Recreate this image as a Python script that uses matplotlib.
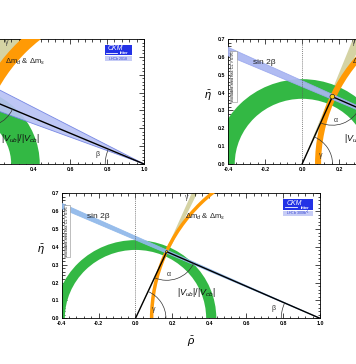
import numpy as np
import matplotlib
matplotlib.use('Agg')
import matplotlib.pyplot as plt
from matplotlib.patches import Wedge, Arc, Ellipse, Rectangle
from matplotlib.ticker import MultipleLocator, FormatStrFormatter

plt.rcParams['font.family'] = ['Liberation Sans', 'DejaVu Sans']
plt.rcParams['mathtext.fontset'] = 'custom'
plt.rcParams['mathtext.rm'] = 'Liberation Sans'
plt.rcParams['mathtext.it'] = 'Liberation Sans:italic'
plt.rcParams['mathtext.bf'] = 'Liberation Sans:bold'

# scenarios: LHCb 2018 (top left), intermediate (top right), LHCb 300fb-1 (bottom)
logo_txt = ['LHCb 2018', 'LHCb 50fb$^{-1}$', 'LHCb 300fb$^{-1}$']
apex_rho = [0.140, 0.164, 0.169]
apex_eta = [0.370, 0.377, 0.373]
vub_rin = [0.28, 0.365, 0.383]
vub_rout = [0.435, 0.475, 0.438]
dm_rin = [0.895, 0.897, 0.903]
dm_rout = [0.965, 0.930, 0.922]
s2b_lo = [20.6, 23.4, 23.7]     # degrees, seen from (1,0)
s2b_hi = [27.9, 25.0, 24.7]
gam_lo = [64.0, 64.5, 64.5]     # degrees, seen from (0,0)
gam_hi = [82.0, 68.5, 66.5]

# styling / layout per panel
blue_face = ['#b9c3f5', '#aab6f1', '#8fb8ea']
blue_edge = ['#6f80e2', '#9aa8ee', '#8fb8ea']
fit_size = [0.05, 0.026, 0.012]
lbl_rho = [0.245, 0.27, 0.267]
logo_x = [0.848, 0.86, 0.858]
logo_w = [0.104, 0.11, 0.116]
rects = [[-0.3211, 0.5495, 0.7256, 0.3434],
         [0.6413, 0.5495, 0.7256, 0.3434],
         [0.1733, 0.1255, 0.7256, 0.3434]]

fig = plt.figure(figsize=(3.56, 3.64), dpi=100)


def draw(ax, i):
    r, e = apex_rho[i], apex_eta[i]
    gam = np.degrees(np.arctan2(e, r))
    bet = np.degrees(np.arctan2(e, 1 - r))

    ax.add_patch(Wedge((0, 0), 3, gam_lo[i], gam_hi[i], fc='#d5d3a4', ec='none', zorder=1))
    ax.add_patch(Wedge((0, 0), vub_rout[i], 0, 180, width=vub_rout[i] - vub_rin[i],
                       fc='#33b844', ec='none', zorder=2))
    ax.add_patch(Wedge((1, 0), dm_rout[i], 90, 180, width=dm_rout[i] - dm_rin[i],
                       fc='#ff9a05', ec='none', zorder=3))
    ax.add_patch(Wedge((1, 0), 3, 180 - s2b_hi[i], 180 - s2b_lo[i],
                       fc=blue_face[i], ec=blue_edge[i], lw=0.6, alpha=0.92, zorder=4))
    ax.axvline(0, color='0.35', ls=(0, (1.5, 1.5)), lw=0.5, zorder=5)

    ax.plot([0, r, 1], [0, e, 0], color='k', lw=1.0, zorder=6)
    ax.add_patch(Ellipse((r, e), fit_size[i], fit_size[i], fc='#ffd21a', ec='k', lw=0.4, zorder=7))
    ax.add_patch(Arc((0, 0), 0.33, 0.33, theta1=0, theta2=gam, lw=0.5, color='0.2', zorder=6))
    ax.add_patch(Arc((r, e), 0.32, 0.32, theta1=180 + gam, theta2=360 - bet, lw=0.5, color='0.2', zorder=6))
    ax.add_patch(Arc((1, 0), 0.42, 0.42, theta1=180 - bet, theta2=180, lw=0.5, color='0.2', zorder=6))

    ax.text(-0.265, 0.57, 'sin 2β', fontsize=6, color='#222222', va='center', zorder=8)
    ax.text(lbl_rho[i], 0.57, 'Δm$_d$ & Δm$_s$', fontsize=5.5, color='#222222', va='center', zorder=8)
    ax.text(lbl_rho[i], 0.678, 'γ', fontsize=5, color='#444444', va='center', zorder=8)
    ax.text(0.225, 0.145, r'$|V_{ub}|/|V_{cb}|$', fontsize=6.5, color='#111111', va='center', zorder=8)
    ax.text(0.172, 0.246, 'α', fontsize=5, color='#333333', va='center', zorder=8)
    ax.text(0.09, 0.05, 'γ', fontsize=5, color='#333333', va='center', zorder=8)
    ax.text(0.735, 0.055, 'β', fontsize=5, color='#333333', va='center', zorder=8)
    ax.text(-0.372, 0.49, 'excluded area has CL > 0.95', rotation=90, fontsize=2.8,
            ha='center', va='center', zorder=8,
            bbox=dict(fc='white', ec='0.55', lw=0.4, pad=0.8))

    # CKMfitter logo
    x0, w = logo_x[i], logo_w[i]
    ax.add_patch(Rectangle((x0, 0.87), w, 0.085, transform=ax.transAxes, fc='#2332e6', ec='none', zorder=9))
    ax.text(x0 + 0.38 * w, 0.922, 'CKM', transform=ax.transAxes, color='white', fontsize=5,
            style='italic', ha='center', va='center', zorder=10)
    ax.plot([x0 + 0.05 * w, x0 + 0.45 * w], [0.888, 0.888], transform=ax.transAxes,
            color='white', lw=0.6, zorder=10)
    ax.text(x0 + 0.72 * w, 0.884, 'fitter', transform=ax.transAxes, color='white', fontsize=2.8,
            weight='bold', ha='center', va='center', zorder=10)
    ax.add_patch(Rectangle((x0, 0.82), w, 0.042, transform=ax.transAxes, fc='#c6ccf6', ec='none', zorder=9))
    ax.text(x0 + 0.5 * w, 0.841, logo_txt[i], transform=ax.transAxes, color='#3040d0', fontsize=2.6,
            ha='center', va='center', zorder=10)

    ax.set_xlim(-0.4, 1.0)
    ax.set_ylim(0, 0.7)
    ax.xaxis.set_major_locator(MultipleLocator(0.2))
    ax.xaxis.set_minor_locator(MultipleLocator(0.04))
    ax.yaxis.set_major_locator(MultipleLocator(0.1))
    ax.yaxis.set_minor_locator(MultipleLocator(0.02))
    ax.xaxis.set_major_formatter(FormatStrFormatter('%.1f'))
    ax.yaxis.set_major_formatter(FormatStrFormatter('%.1f'))
    ax.tick_params(which='both', direction='in', top=True, right=True, width=0.5,
                   labelsize=3.8, pad=2)
    ax.tick_params(which='major', length=3.5)
    ax.tick_params(which='minor', length=1.8)
    for lab in ax.get_xticklabels() + ax.get_yticklabels():
        lab.set_fontweight('bold')
    for s in ax.spines.values():
        s.set_linewidth(0.6)
    ax.set_ylabel(r'$\bar{\eta}$', fontsize=8, rotation=0)
    ax.yaxis.set_label_coords(-0.08, 0.49)


axes = []
for i in range(3):
    ax = fig.add_axes(rects[i])
    draw(ax, i)
    axes.append(ax)

axes[2].set_xlabel(r'$\bar{\rho}$', fontsize=8)
axes[2].xaxis.set_label_coords(0.5, -0.135)

fig.savefig('out.png', dpi=100)
